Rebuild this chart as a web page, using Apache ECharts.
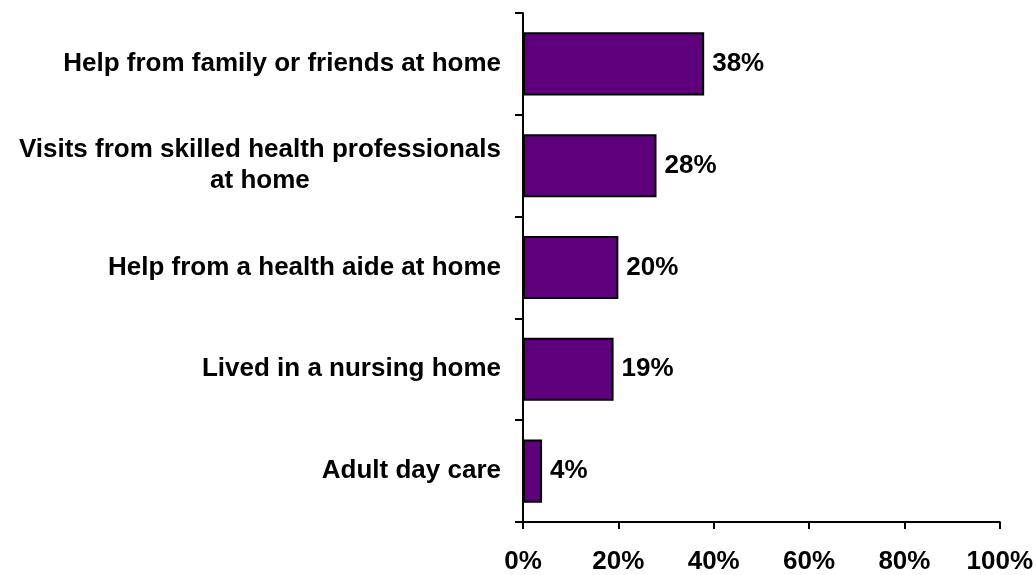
<!DOCTYPE html>
<html>
<head>
<meta charset="utf-8">
<script src="https://cdn.jsdelivr.net/npm/echarts@6/dist/echarts.min.js"></script>
<style>
  html, body { margin: 0; padding: 0; background: #fff; }
  #careChart { width: 1036px; height: 575px; }
</style>
</head>
<body>
<div id="careChart"></div>
<script>
// 数据
var categories = [
  'Help from family or friends at home',
  'Visits from skilled health professionals\nat home',
  'Help from a health aide at home',
  'Lived in a nursing home',
  'Adult day care'
]
var shareValues = [38, 28, 20, 19, 4]
var xTicks = [0, 20, 40, 60, 80, 100]

var font = '"Liberation Sans", Arial, sans-serif'
var boldText = {
  color: '#000',
  fontSize: 26,
  fontWeight: 'bold',
  fontFamily: font
}
var careChart = echarts.init(document.getElementById('careChart'))
var option = {
  animation: false,
  grid: {
    left: 523,
    right: 35,
    top: 13,
    bottom: 53
  },
  xAxis: {
    type: 'value',
    min: xTicks[0],
    max: xTicks[xTicks.length - 1],
    interval: 20,
    splitLine: { show: false },
    axisLine: { show: true, lineStyle: { color: '#000', width: 2 } },
    axisTick: { show: true, length: 7, lineStyle: { color: '#000', width: 2 } },
    axisLabel: Object.assign({
      margin: 27,
      formatter: '{value}%'
    }, boldText)
  },
  yAxis: {
    type: 'category',
    inverse: true,
    data: categories,
    axisLine: { show: true, lineStyle: { color: '#000', width: 2 } },
    axisTick: { show: true, length: 8, lineStyle: { color: '#000', width: 2 } },
    axisLabel: Object.assign({
      margin: 22,
      lineHeight: 31,
      align: 'right',
      // 多行标签：各行居中
      formatter: function(val) {
        if (val.indexOf('\n') < 0) return val
        return val.split('\n').map(function(s) {
          return '{ctr|' + s + '}'
        }).join('\n')
      },
      rich: {
        ctr: Object.assign({ align: 'center', lineHeight: 31 }, boldText)
      }
    }, boldText)
  },
  series: [
    {
      type: 'bar',
      data: shareValues,
      barCategoryGap: '38%',
      itemStyle: {
        color: '#5e007c',
        borderColor: '#000',
        borderWidth: 2
      },
      label: Object.assign({
        show: true,
        position: 'right',
        distance: 8,
        formatter: '{c}%'
      }, boldText)
    }
  ]
}
careChart.setOption(option)
</script>
</body>
</html>
